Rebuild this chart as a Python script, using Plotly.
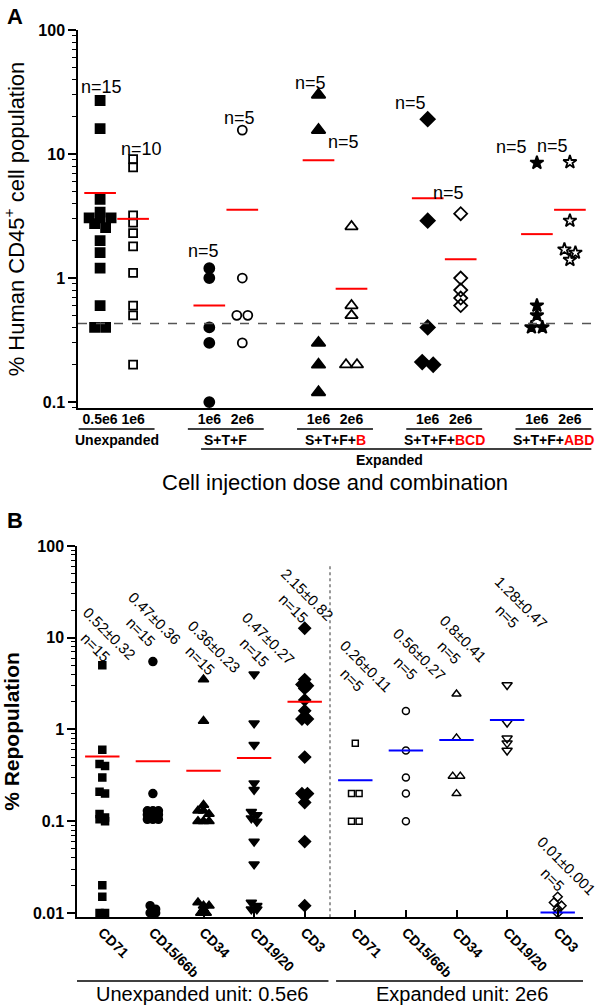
import numpy as np
import plotly.graph_objects as go

FONT = "Liberation Sans, Arial, sans-serif"
RED = "#ff0000"
BLUE = "#0000ff"

# ---------------- Panel A: % human CD45+ cells ----------------
a_groups = ["Unexpanded", "S+T+F", "S+T+F+B", "S+T+F+BCD", "S+T+F+ABD"]
a_group_extra = ["", "", "B", "BCD", "ABD"]          # part of the label shown in red
a_doses = ["0.5e6", "1e6", "1e6", "2e6", "1e6", "2e6", "1e6", "2e6", "1e6", "2e6"]
a_counts = ["n=15", "n=10", "n=5", "n=5", "n=5", "n=5", "n=5", "n=5", "n=5", "n=5"]

unexp_05 = [27, 16, 4.3, 3.4, 3.05, 3.05, 3.05, 2.75, 2.55, 2.0, 1.6, 1.2, 0.6, 0.4, 0.4]
unexp_1 = [9.1, 7.8, 3.2, 2.8, 2.3, 1.8, 1.1, 0.6, 0.5, 0.2]
stf_1 = [1.2, 1.0, 0.4, 0.3, 0.1]
stf_2 = [15.6, 1.0, 0.5, 0.5, 0.3]
stfb_1 = [30, 15.6, 0.3, 0.2, 0.12]
stfb_2 = [2.6, 0.6, 0.5, 0.2, 0.2]
stfbcd_1 = [19.1, 2.9, 0.4, 0.21, 0.2]
stfbcd_2 = [3.3, 1.0, 0.8, 0.69, 0.6]
stfabd_1 = [8.5, 0.6, 0.5, 0.4, 0.4]
stfabd_2 = [8.6, 2.9, 1.7, 1.6, 1.4]
a_means = [4.85, 3.0, 0.6, 3.55, 8.9, 0.82, 4.4, 1.42, 2.26, 3.55]
a_cutoff = 0.43

# ---------------- Panel B: % repopulation by lineage ----------------
b_markers = ["CD71", "CD15/66b", "CD34", "CD19/20", "CD3"]
b_units = ["Unexpanded unit: 0.5e6", "Expanded unit: 2e6"]

u_cd71 = [5.0, 0.6, 0.42, 0.40, 0.3, 0.21, 0.20, 0.12, 0.11, 0.105, 0.10, 0.02, 0.015, 0.01, 0.01]
u_cd15 = [5.5, 0.2, 0.13, 0.13, 0.13, 0.118, 0.118, 0.118, 0.105, 0.105, 0.105, 0.012, 0.011, 0.01, 0.01]
u_cd34 = [3.5, 1.24, 0.15, 0.13, 0.13, 0.12, 0.10, 0.10, 0.10, 0.013, 0.012, 0.012, 0.011, 0.01, 0.01]
u_cd19 = [4.0, 1.17, 0.68, 0.26, 0.22, 0.127, 0.117, 0.108, 0.099, 0.06, 0.034, 0.013, 0.012, 0.011, 0.011]
u_cd3 = [12.7, 3.5, 3.1, 3.0, 2.8, 2.1, 1.6, 1.3, 1.3, 0.5, 0.2, 0.2, 0.16, 0.06, 0.012]
e_cd71 = [0.71, 0.2, 0.2, 0.1, 0.1]
e_cd15 = [1.59, 0.59, 0.3, 0.2, 0.1]
e_cd34 = [2.44, 0.81, 0.31, 0.31, 0.2]
e_cd19 = [3.06, 1.19, 0.8, 0.71, 0.59]
e_cd3 = [0.015, 0.013, 0.012, 0.011, 0.01]
b_means = [0.506, 0.45, 0.356, 0.49, 2.01, 0.28, 0.59, 0.77, 1.27, 0.0101]
b_mean_sd = ["0.52±0.32", "0.47±0.36", "0.36±0.23", "0.47±0.27", "2.15±0.82",
             "0.26±0.11", "0.56±0.27", "0.8±0.41", "1.28±0.47", "0.01±0.001"]
b_counts = ["n=15"] * 5 + ["n=5"] * 5

W, H = 600, 1005


def px_x(p):
    return p / W


def px_y(p):
    return 1 - p / H


def swarm(vals, center, px_per_decade, step, gap):
    """Spread points that sit within `gap` pixels of each other into centred rows."""
    order = sorted(range(len(vals)), key=lambda i: -vals[i])
    xs = [center] * len(vals)
    rows, row, start = [], [], None
    for i in order:
        p = np.log10(vals[i]) * px_per_decade
        if start is None or start - p >= gap:
            if row:
                rows.append(row)
            row, start = [i], p
        else:
            row.append(i)
    rows.append(row)
    for row in rows:
        k = len(row)
        for j, i in enumerate(row):
            xs[i] = center + (j - (k - 1) / 2) * step
    return xs


fig = go.Figure()

# ---- panel A traces ----
a_series = [unexp_05, unexp_1, stf_1, stf_2, stfb_1, stfb_2, stfbcd_1, stfbcd_2, stfabd_1, stfabd_2]
a_symbols = ["square", "square-open", "circle", "circle-open", "triangle-up",
             "triangle-up-open", "diamond", "diamond-open", "star", "star-open"]
a_sizes = [9, 8, 10, 9, 12, 11, 11, 10, 10, 10]
GAP_A = 3.31
a_pos = [g * GAP_A + k for g in range(5) for k in (0, 1)]
a_centers = [g * GAP_A + 0.5 for g in range(5)]
a_range = [-0.67, 14.94]

for vals, x0, sym, sz in zip(a_series, a_pos, a_symbols, a_sizes):
    fig.add_trace(go.Scatter(
        x=swarm(vals, x0, 124, 0.333, 4.5), y=vals, mode="markers",
        marker=dict(symbol=sym, size=sz, color="black", line=dict(color="black", width=1.8)),
        xaxis="x", yaxis="y", cliponaxis=False, showlegend=False,
    ))

mx, my = [], []
for x0, m in zip(a_pos, a_means):
    mx += [x0 - 0.48, x0 + 0.48, None]
    my += [m, m, None]
fig.add_trace(go.Scatter(x=mx, y=my, mode="lines", line=dict(color=RED, width=2),
                         xaxis="x", yaxis="y", showlegend=False))
fig.add_trace(go.Scatter(x=a_range, y=[a_cutoff, a_cutoff], mode="lines",
                         line=dict(color="#555555", width=1.3, dash="dash"),
                         xaxis="x", yaxis="y", showlegend=False))

# ---- panel B traces ----
b_series = [u_cd71, u_cd15, u_cd34, u_cd19, u_cd3, e_cd71, e_cd15, e_cd34, e_cd19, e_cd3]
b_symbols = ["square", "circle", "triangle-up", "triangle-down", "diamond",
             "square-open", "circle-open", "triangle-up-open", "triangle-down-open", "diamond-open"]
b_sizes = [7, 8, 9, 9, 9, 6, 7, 8, 9, 7]
for i, (vals, sym, sz) in enumerate(zip(b_series, b_symbols, b_sizes)):
    step = 0.109 if i < 5 else 0.15
    fig.add_trace(go.Scatter(
        x=swarm(vals, i, 91.75, step, 3.5), y=vals, mode="markers",
        marker=dict(symbol=sym, size=sz, color="black", line=dict(color="black", width=1.5)),
        xaxis="x2", yaxis="y2", cliponaxis=False, showlegend=False,
    ))

for colour, idx in ((RED, range(0, 5)), (BLUE, range(5, 10))):
    mx, my = [], []
    for i in idx:
        mx += [i - 0.34, i + 0.34, None]
        my += [b_means[i], b_means[i], None]
    fig.add_trace(go.Scatter(x=mx, y=my, mode="lines", line=dict(color=colour, width=2),
                             xaxis="x2", yaxis="y2", showlegend=False))

fig.add_trace(go.Scatter(x=[4.5, 4.5], y=[0.009, 62], mode="lines",
                         line=dict(color="#555555", width=1.2, dash="dot"),
                         xaxis="x2", yaxis="y2", cliponaxis=False, showlegend=False))

# ---- annotations ----
ann = []


def label(**kw):
    kw.setdefault("showarrow", False)
    kw.setdefault("xanchor", "center")
    kw.setdefault("yanchor", "middle")
    ann.append(kw)


n_pos_a = [(0.03, 1.54), (1.24, 1.04), (3.12, 0.218), (4.21, 1.29), (6.39, 1.573),
           (7.39, 1.097), (9.42, 1.411), (10.55, 0.685), (12.48, 1.056), (13.70, 1.065)]
for txt, (x, ly) in zip(a_counts, n_pos_a):
    label(x=x, y=ly, xref="x", yref="y", text=txt, font=dict(size=18, color="black"))

lbl_pos_b = [(0.0, 0.97), (0.9, 1.13), (2.07, 0.83), (3.14, 0.915), (3.91, 1.395),
             (5.08, 0.61), (6.13, 0.74), (6.99, 0.915), (8.14, 1.31), (9.03, -1.56)]
for ms, n, (x, ly) in zip(b_mean_sd, b_counts, lbl_pos_b):
    label(x=x, y=ly, xref="x2", yref="y2", text=f"{ms}<br>{n}", textangle=45,
          font=dict(size=15, color="black"))

shapes = []
LINE = dict(color="black", width=1.5)
for name, extra, c in zip(a_groups, a_group_extra, a_centers):
    shapes.append(dict(type="line", xref="x", yref="paper", x0=c - 1.15, x1=c + 1.15,
                       y0=px_y(429), y1=px_y(429), line=LINE))
    if extra:
        text = f"<b>{name[:-len(extra)]}<span style='color:{RED}'>{extra}</span></b>"
    else:
        text = f"<b>{name}</b>"
    label(x=c, y=px_y(440), xref="x", yref="paper", text=text, font=dict(size=14, color="black"))
shapes.append(dict(type="line", xref="x", yref="paper", x0=a_centers[1] - 0.75,
                   x1=a_centers[-1] + 1.15, y0=px_y(449), y1=px_y(449), line=LINE))
label(x=float(np.mean(a_centers[1:])), y=px_y(460), xref="x", yref="paper",
      text="<b>Expanded</b>", font=dict(size=14, color="black"))
label(x=px_x(335), y=px_y(482), xref="paper", yref="paper",
      text="Cell injection dose and combination", font=dict(size=22, color="black"))

for unit, (x0, x1) in zip(b_units, [(-0.53, 4.47), (4.62, 9.6)]):
    shapes.append(dict(type="line", xref="x2", yref="paper", x0=x0, x1=x1,
                       y0=px_y(981), y1=px_y(981), line=LINE))
    label(x=(x0 + x1) / 2, y=px_y(994), xref="x2", yref="paper", text=unit,
          font=dict(size=20, color="black"))

for letter, yp in (("A", 16), ("B", 520)):
    label(x=px_x(15), y=px_y(yp), xref="paper", yref="paper", text=f"<b>{letter}</b>",
          font=dict(size=22, color="black"))

axis_common = dict(showline=True, linecolor="black", linewidth=1.5, showgrid=False,
                   zeroline=False, automargin=False)
log_axis = dict(type="log", dtick=1, ticks="outside", ticklen=8, tickwidth=1.5,
                tickcolor="black",
                tickfont=dict(size=16, color="black", weight="bold"),
                minor=dict(ticks="outside", ticklen=4, tickwidth=1, dtick="D1",
                           tickcolor="black", showgrid=False),
                **axis_common)

fig.update_layout(
    width=W, height=H,
    margin=dict(l=0, r=0, t=0, b=0),
    template="none",
    paper_bgcolor="white", plot_bgcolor="white",
    font=dict(family=FONT, color="black"),
    xaxis=dict(domain=[px_x(78), px_x(593)], range=a_range, anchor="y",
               tickmode="array", tickvals=a_pos, ticktext=a_doses, ticks="",
               ticklabelstandoff=-3,
               tickfont=dict(size=14, color="black", weight="bold"), **axis_common),
    yaxis=dict(domain=[px_y(408), px_y(30)], range=[-1.048, 2], anchor="x",
               title=dict(text="% Human CD45<sup>+</sup> cell population",
                          font=dict(size=22), standoff=8),
               **log_axis),
    xaxis2=dict(domain=[px_x(77), px_x(583)], range=[-0.5, 9.5], anchor="y2",
                tickmode="array", tickvals=list(range(10)), ticktext=b_markers * 2,
                tickangle=45, ticks="inside", ticklen=7, tickwidth=1.5, tickcolor="black",
                tickfont=dict(size=14, color="black", weight="bold"), **axis_common),
    yaxis2=dict(domain=[px_y(917), px_y(546)], range=[-2.044, 2], anchor="x2",
                title=dict(text="% Repopulation",
                           font=dict(size=21, weight="bold"), standoff=8),
                **log_axis),
    annotations=ann, shapes=shapes,
)

# the page's default 8px body margin would push the 600x1005 figure out of the window
fig.write_html("out.html", config={"displayModeBar": False},
               post_script="document.body.style.margin='0px';")
